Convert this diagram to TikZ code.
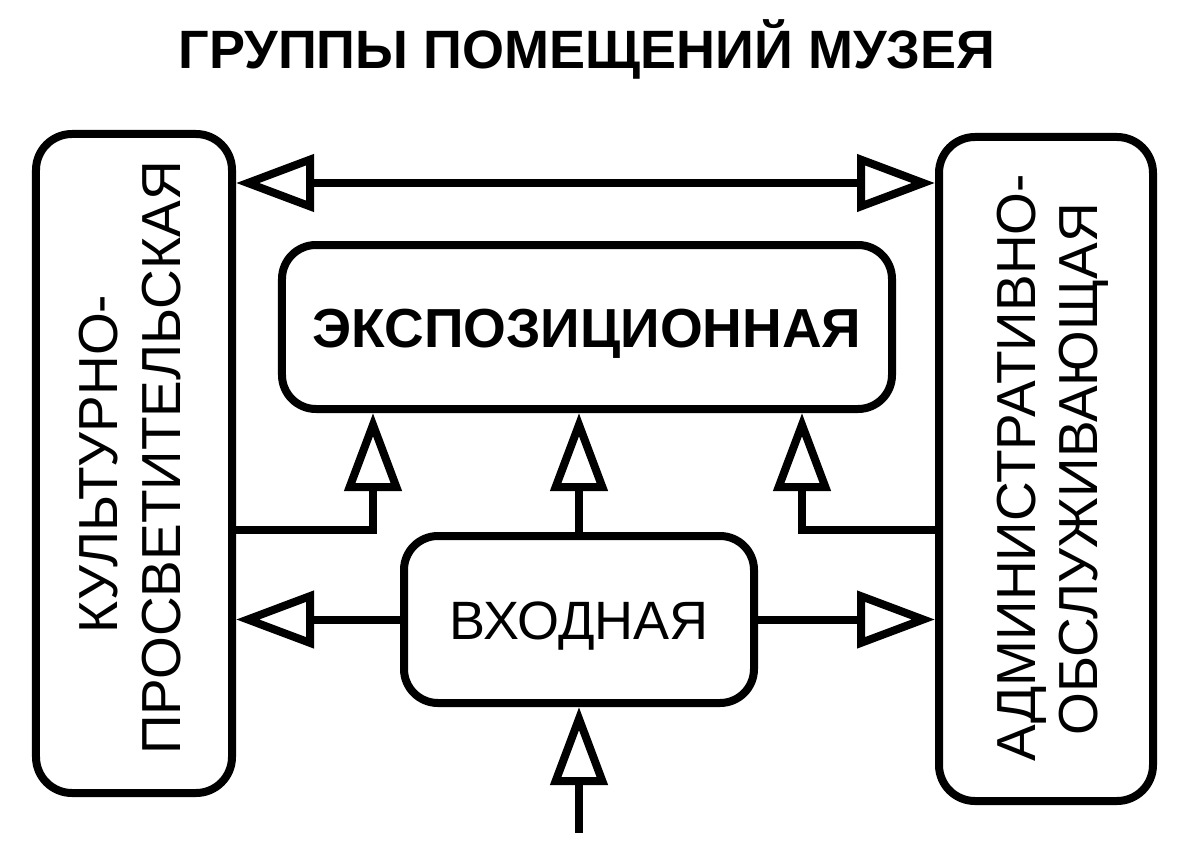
\documentclass[tikz,border=0pt]{standalone}
\usepackage{fontspec}
\setmainfont{Liberation Sans}
\usetikzlibrary{arrows.meta,calc}
\begin{document}
\begin{tikzpicture}[x=1bp,y=-1bp,
  box/.style={draw, line width=8bp, rounded corners=34bp, inner sep=0pt, align=center},
  tipa/.tip={Triangle[open, length=78bp, width=56bp]},
  conn/.style={line width=8bp, -tipa},
  both/.style={line width=8bp, tipa-tipa},
  side/.style={rotate=90, anchor=base, inner sep=0pt, font=\fontsize{55bp}{62bp}\selectfont}
]
\fill[white] (0,0) rectangle (1181,854);
\useasboundingbox (0,0) rectangle (1181,854);

\node[anchor=base, inner sep=0pt, font=\fontsize{54bp}{60bp}\selectfont\bfseries] (title) at (587,68) {ГРУППЫ ПОМЕЩЕНИЙ МУЗЕЯ};

\node[box, minimum width=196bp, minimum height=659bp, rounded corners=36bp] (kp) at (134,463.5) {};
\node[side] (kp1) at (117,464) {КУЛЬТУРНО-};
\node[side] (kp2) at (180,458) {ПРОСВЕТИТЕЛЬСКАЯ};

\node[box, minimum width=214bp, minimum height=664bp, rounded corners=36bp] (adm) at (1046,469) {};
\node[side] (adm1) at (1035,468) {АДМИНИСТРАТИВНО-};
\node[side] (adm2) at (1097,469) {ОБСЛУЖИВАЮЩАЯ};

\node[box, minimum width=610bp, minimum height=164bp, text height=40bp, text depth=0pt,
      font=\fontsize{55bp}{60bp}\selectfont\bfseries] (exp) at (587,327) {ЭКСПОЗИЦИОННАЯ};

\node[box, minimum width=350bp, minimum height=167bp, text height=40bp, text depth=0pt,
      font=\fontsize{54bp}{60bp}\selectfont] (ent) at (579,619.5) {ВХОДНАЯ};

\coordinate (ty) at (0,183);
\coordinate (hy) at (0,530);
\coordinate (ax1) at (373,0);
\coordinate (ax2) at (802,0);
\coordinate (entry) at (579,833);

\draw[both] (kp.east |- ty) -- (adm.west |- ty);
\draw[conn] (kp.east |- hy) -| (ax1 |- exp.south);
\draw[conn] (adm.west |- hy) -| (ax2 |- exp.south);
\draw[conn] (ent.north) -- (ent.north |- exp.south);
\draw[conn] (ent.west) -- (kp.east |- ent.west);
\draw[conn] (ent.east) -- (adm.west |- ent.east);
\draw[conn] (entry) -- (ent.south);
\end{tikzpicture}
\end{document}
